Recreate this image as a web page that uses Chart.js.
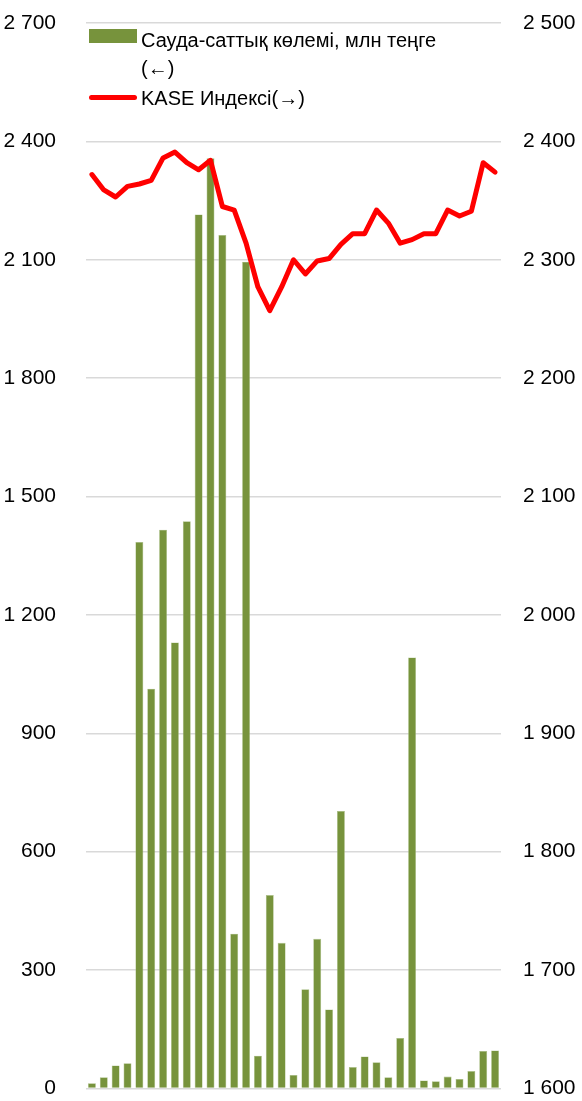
<!DOCTYPE html>
<html>
<head>
<meta charset="utf-8">
<script src="https://cdn.jsdelivr.net/npm/chart.js@4/dist/chart.umd.min.js"></script>
<style>
  html, body { margin: 0; padding: 0; background: #fff; }
  #wrap { position: relative; width: 582px; height: 1101px; }
  #c { display: block; }
  #legend { position: absolute; left: 0; top: 0; font-family: 'Liberation Sans', Arial, sans-serif; font-size: 20px; color: #000; }
  .item { position: absolute; white-space: nowrap; line-height: 28px; }
  .sw { position: absolute; }
</style>
</head>
<body>
<div id="wrap">
  <canvas id="c" width="582" height="1101"></canvas>
  <div id="legend">
    <div class="sw" style="left:89px; top:29px; width:48px; height:14px; background:#77933C;"></div>
    <div class="item" style="left:141px; top:26px;">Сауда-саттық көлемі, млн теңге<br>(←)</div>
    <div class="sw" style="left:89px; top:95px; width:48px; height:5px; background:#FF0000; border-radius:3px;"></div>
    <div class="item" style="left:141px; top:84px;">KASE Индексі(→)</div>
  </div>
</div>
<script>
const categories = ['1','2','3','4','5','6','7','8','9','10','11','12','13','14','15','16','17','18','19','20','21','22','23','24','25','26','27','28','29','30','31','32','33','34','35'];
const volumeValues = [13, 28, 58, 64, 1385, 1013, 1416, 1130, 1437, 2215, 2357, 2163, 392, 2095, 83, 490, 369, 34, 251, 379, 200, 703, 54, 81, 66, 28, 128, 1092, 20, 18, 30, 24, 44, 95, 96];
const kaseValues = [2372, 2359, 2353, 2362, 2364, 2367, 2386, 2391, 2382, 2376, 2384, 2345, 2342, 2314, 2277, 2257, 2277, 2300, 2288, 2299, 2301, 2313, 2322, 2322, 2342, 2331, 2314, 2317, 2322, 2322, 2342, 2337, 2341, 2382, 2374];
const leftTicks = [0, 300, 600, 900, 1200, 1500, 1800, 2100, 2400, 2700];
const rightTicks = [1600, 1700, 1800, 1900, 2000, 2100, 2200, 2300, 2400, 2500];
const volumeLabel = 'Сауда-саттық көлемі, млн теңге (←)';
const kaseLabel = 'KASE Индексі(→)';

const fmt = v => String(v).replace(/\B(?=(\d{3})+(?!\d))/g, ' ');
const FONT = "'Liberation Sans', Arial, sans-serif";

new Chart(document.getElementById('c'), {
  data: {
    labels: categories,
    datasets: [
      {
        type: 'line', label: kaseLabel, data: kaseValues, yAxisID: 'y2',
        borderColor: '#FF0000', borderWidth: 5, pointRadius: 0, tension: 0,
        borderCapStyle: 'round', borderJoinStyle: 'round', order: 0
      },
      {
        type: 'bar', label: volumeLabel, data: volumeValues, yAxisID: 'y',
        backgroundColor: '#77933C', borderColor: '#A9BE85', borderWidth: 0.6,
        categoryPercentage: 1, barPercentage: 0.67, order: 1
      }
    ]
  },
  options: {
    responsive: false,
    animation: false,
    devicePixelRatio: 1,
    layout: { padding: { top: 23, bottom: 0, left: 0, right: 0 } },
    plugins: { legend: { display: false }, tooltip: { enabled: false }, title: { display: false } },
    scales: {
      x: { display: false, offset: true },
      y: {
        position: 'left', min: leftTicks[0], max: leftTicks[leftTicks.length - 1],
        border: { display: false },
        grid: { color: '#D9D9D9', lineWidth: 1.5, drawTicks: true, tickLength: 30, tickColor: 'rgba(0,0,0,0)' },
        afterBuildTicks: s => { s.ticks = leftTicks.map(v => ({ value: v })); },
        ticks: { padding: 0, color: '#000', font: { family: FONT, size: 21 }, callback: v => fmt(v) },
        afterFit: s => { s.width = 86; }
      },
      y2: {
        position: 'right', min: rightTicks[0], max: rightTicks[rightTicks.length - 1],
        border: { display: false },
        grid: { display: true, drawOnChartArea: false, drawTicks: true, tickLength: 22, tickColor: 'rgba(0,0,0,0)' },
        afterBuildTicks: s => { s.ticks = rightTicks.map(v => ({ value: v })); },
        ticks: { padding: 0, color: '#000', font: { family: FONT, size: 21 }, callback: v => fmt(v) },
        afterFit: s => { s.width = 81; }
      }
    }
  }
});
</script>
</body>
</html>
